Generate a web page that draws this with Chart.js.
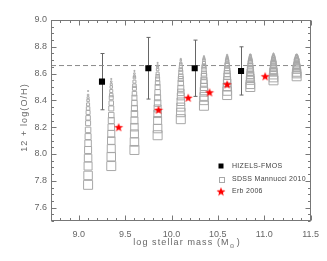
<!DOCTYPE html>
<html lang="en">
<head>
<meta charset="UTF-8">
<title>Mass-metallicity relation</title>
<script src="https://cdn.jsdelivr.net/npm/chart.js"></script>
<style>
  html, body { margin: 0; padding: 0; background: #fff; }
  #wrap { width: 327px; height: 261px; }
</style>
</head>
<body>
<div id="wrap"><canvas id="mzChart" width="327" height="261"></canvas></div>
<script>
// axis ticks
const xTicks = [9.0, 9.5, 10.0, 10.5, 11.0, 11.5];
const yTicks = [7.6, 7.8, 8.0, 8.2, 8.4, 8.6, 8.8, 9.0];

// HIZELS-FMOS stacks
const hizelsMass = [9.25, 9.75, 10.25, 10.75];
const hizelsZ = [8.54, 8.64, 8.64, 8.62];
const hizelsErr = [0.21, 0.23, 0.21, 0.18];

// Erb 2006
const erbMass = [9.43, 9.86, 10.18, 10.41, 10.60, 11.01];
const erbZ = [8.20, 8.33, 8.42, 8.46, 8.52, 8.58];

// SDSS Mannucci 2010, one column per mass bin (bottom = biggest square)
const sdssMass = [9.10, 9.35, 9.60, 9.85, 10.10, 10.35, 10.60, 10.85, 11.10, 11.35];
const sdssZ = [
  [7.77, 7.84, 7.91, 7.97, 8.03, 8.08, 8.13, 8.18, 8.23, 8.27, 8.31, 8.34, 8.37, 8.40, 8.42, 8.44, 8.47],
  [7.91, 7.98, 8.04, 8.10, 8.15, 8.20, 8.25, 8.29, 8.34, 8.38, 8.42, 8.44, 8.47, 8.50, 8.52, 8.54, 8.56],
  [8.03, 8.09, 8.15, 8.20, 8.25, 8.30, 8.34, 8.38, 8.42, 8.45, 8.49, 8.51, 8.54, 8.57, 8.58, 8.60, 8.62],
  [8.14, 8.19, 8.25, 8.30, 8.34, 8.38, 8.42, 8.46, 8.50, 8.53, 8.56, 8.58, 8.60, 8.63, 8.65, 8.66, 8.68],
  [8.26, 8.31, 8.35, 8.39, 8.43, 8.46, 8.49, 8.53, 8.56, 8.58, 8.61, 8.63, 8.65, 8.67, 8.68, 8.70, 8.71],
  [8.36, 8.40, 8.43, 8.47, 8.50, 8.53, 8.55, 8.58, 8.60, 8.63, 8.65, 8.66, 8.68, 8.70, 8.71, 8.72, 8.73],
  [8.44, 8.47, 8.50, 8.53, 8.55, 8.58, 8.60, 8.62, 8.64, 8.66, 8.67, 8.69, 8.70, 8.71, 8.72, 8.73, 8.74],
  [8.50, 8.52, 8.55, 8.57, 8.59, 8.61, 8.63, 8.64, 8.66, 8.68, 8.69, 8.70, 8.71, 8.72, 8.73, 8.74, 8.74],
  [8.55, 8.57, 8.59, 8.61, 8.62, 8.64, 8.65, 8.67, 8.68, 8.69, 8.70, 8.71, 8.72, 8.73, 8.73, 8.74, 8.75],
  [8.58, 8.60, 8.61, 8.63, 8.64, 8.65, 8.66, 8.67, 8.69, 8.70, 8.70, 8.71, 8.72, 8.73, 8.73, 8.74, 8.74]
];

// solar value, dashed line
const solarZ = 8.66;

const FONT = 'Liberation Sans, Arial, sans-serif';
const TXT = '#666';
const SQ_GREY = '#a8a8a8';

// red five point star used as a point style
function makeStar(size, color) {
  const c = document.createElement('canvas');
  c.width = size; c.height = size;
  const g = c.getContext('2d');
  const cx = size / 2, cy = size / 2 + 0.4;
  const ro = size / 2 - 0.3, ri = ro * 0.42;
  g.beginPath();
  for (let i = 0; i < 10; i++) {
    const r = i % 2 ? ri : ro;
    const a = -Math.PI / 2 + i * Math.PI / 5;
    g.lineTo(cx + r * Math.cos(a), cy + r * Math.sin(a));
  }
  g.closePath();
  g.fillStyle = color;
  g.fill();
  return c;
}
const starImg = makeStar(10, '#ff0000');

// SDSS square size shrinks with SFR bin
function sdssRadius(i) {
  return (9 - 0.5 * i) / 1.414;
}

const datasets = [];
datasets.push({
  label: 'HIZELS-FMOS',
  data: hizelsMass.map((m, i) => ({ x: m, y: hizelsZ[i] })),
  pointStyle: 'rect',
  pointRadius: 4.3,
  backgroundColor: '#000',
  borderColor: '#000',
  borderWidth: 0
});
datasets.push({
  label: 'Erb 2006',
  data: erbMass.map((m, i) => ({ x: m, y: erbZ[i] })),
  pointStyle: starImg,
  pointRadius: 5
});
sdssZ.forEach((col, c) => {
  datasets.push({
    label: 'SDSS Mannucci 2010',
    data: col.map(z => ({ x: sdssMass[c], y: z })),
    pointStyle: 'rect',
    pointRadius: ctx => sdssRadius(ctx.dataIndex),
    backgroundColor: 'rgba(0,0,0,0)',
    borderColor: SQ_GREY,
    borderWidth: 1
  });
});
datasets.push({
  label: 'solar',
  type: 'line',
  data: [{ x: 8.7, y: solarZ }, { x: 11.5, y: solarZ }],
  borderColor: '#8a8a8a',
  borderWidth: 1,
  borderDash: [5, 3],
  pointRadius: 0
});

// error bars on HIZELS points (drawn under the squares)
const errorBars = {
  id: 'errorBars',
  beforeDatasetsDraw(chart) {
    const { ctx, scales: { x, y } } = chart;
    ctx.save();
    ctx.strokeStyle = '#666';
    ctx.lineWidth = 1;
    hizelsMass.forEach((m, i) => {
      const px = Math.round(x.getPixelForValue(m)) + 0.5;
      const top = y.getPixelForValue(hizelsZ[i] + hizelsErr[i]);
      const bot = y.getPixelForValue(hizelsZ[i] - hizelsErr[i]);
      ctx.beginPath();
      ctx.moveTo(px, top); ctx.lineTo(px, bot);
      ctx.moveTo(px - 2, top); ctx.lineTo(px + 2, top);
      ctx.moveTo(px - 2, bot); ctx.lineTo(px + 2, bot);
      ctx.stroke();
    });
    ctx.restore();
  }
};

// IDL-style box with inward ticks on all sides, axis titles and legend
const frame = {
  id: 'frame',
  afterDraw(chart) {
    const { ctx, chartArea: a, scales: { x, y } } = chart;
    ctx.save();
    ctx.strokeStyle = '#777';
    ctx.lineWidth = 1;
    const L = Math.round(a.left) + 0.5, R = Math.round(a.right) - 0.5;
    const T = Math.round(a.top) + 0.5, B = Math.round(a.bottom) - 0.5;
    ctx.strokeRect(L, T, R - L, B - T);
    ctx.beginPath();
    for (let k = 87; k <= 115; k++) {
      const v = k / 10;
      const len = k % 5 === 0 ? 5 : 2.5;
      const px = Math.round(x.getPixelForValue(v)) + 0.5;
      ctx.moveTo(px, B); ctx.lineTo(px, B - len);
      ctx.moveTo(px, T); ctx.lineTo(px, T + len);
    }
    for (let k = 150; k <= 180; k++) {
      const v = k / 20;
      const len = k % 4 === 0 ? 5 : 2.5;
      const py = Math.round(y.getPixelForValue(v)) + 0.5;
      ctx.moveTo(L, py); ctx.lineTo(L + len, py);
      ctx.moveTo(R, py); ctx.lineTo(R - len, py);
    }
    ctx.stroke();

    // axis titles
    ctx.fillStyle = TXT;
    ctx.font = '9px ' + FONT;
    ctx.letterSpacing = '1.1px';
    ctx.textBaseline = 'middle';
    const main = 'log stellar mass (M';
    const w1 = ctx.measureText(main).width;
    ctx.font = '6px DejaVu Sans';
    const w2 = ctx.measureText('\u2299').width + 1;
    ctx.font = '9px ' + FONT;
    const w3 = ctx.measureText(')').width;
    const sx = 187 - (w1 + w2 + w3) / 2;
    const ty = 243;
    ctx.textAlign = 'left';
    ctx.fillText(main, sx, ty);
    ctx.font = '6px DejaVu Sans';
    ctx.fillText('\u2299', sx + w1, ty + 3);
    ctx.font = '9px ' + FONT;
    ctx.fillText(')', sx + w1 + w2, ty);

    ctx.save();
    ctx.translate(25, (a.top + a.bottom) / 2 - 3);
    ctx.rotate(-Math.PI / 2);
    ctx.textAlign = 'center';
    ctx.fillText('12 + log(O/H)', 0, 0);
    ctx.restore();

    // legend
    const lx = 221, tx = 232;
    const rows = [166, 179, 191.5];
    ctx.font = '7px ' + FONT;
    ctx.letterSpacing = '0.3px';
    ctx.textAlign = 'left';
    ctx.fillStyle = '#000';
    ctx.fillRect(lx - 2.5, rows[0] - 2.5, 5, 5);
    ctx.strokeStyle = SQ_GREY;
    ctx.strokeRect(Math.round(lx - 2.5) + 0.5, Math.round(rows[1] - 2.5) + 0.5, 5, 5);
    ctx.drawImage(starImg, lx - 5, rows[2] - 5);
    ctx.fillStyle = '#444';
    ctx.fillText('HIZELS-FMOS', tx, rows[0]);
    ctx.fillText('SDSS Mannucci 2010', tx, rows[1]);
    ctx.fillText('Erb 2006', tx, rows[2]);
    ctx.restore();
  }
};

const ctx = document.getElementById('mzChart').getContext('2d');
new Chart(ctx, {
  type: 'scatter',
  data: { datasets },
  options: {
    responsive: false,
    animation: false,
    layout: { padding: { top: 20, right: 15, left: 0, bottom: 0 } },
    plugins: { legend: { display: false }, tooltip: { enabled: false } },
    scales: {
      x: {
        type: 'linear', min: 8.7, max: 11.5,
        afterBuildTicks: s => { s.ticks = xTicks.map(v => ({ value: v })); },
        afterFit: s => { s.height = 40; },
        grid: { display: false, drawTicks: false },
        border: { display: false },
        ticks: {
          color: TXT, font: { family: FONT, size: 9 }, padding: 8,
          maxRotation: 0, autoSkip: false,
          callback: v => Number(v).toFixed(1)
        }
      },
      y: {
        type: 'linear', min: 7.5, max: 9.0,
        afterBuildTicks: s => { s.ticks = yTicks.map(v => ({ value: v })); },
        afterFit: s => { s.width = 51; },
        grid: { display: false, drawTicks: false },
        border: { display: false },
        ticks: {
          color: TXT, font: { family: FONT, size: 9 }, padding: 4,
          autoSkip: false,
          callback: v => Number(v).toFixed(1)
        }
      }
    }
  },
  plugins: [errorBars, frame]
});
</script>
</body>
</html>
